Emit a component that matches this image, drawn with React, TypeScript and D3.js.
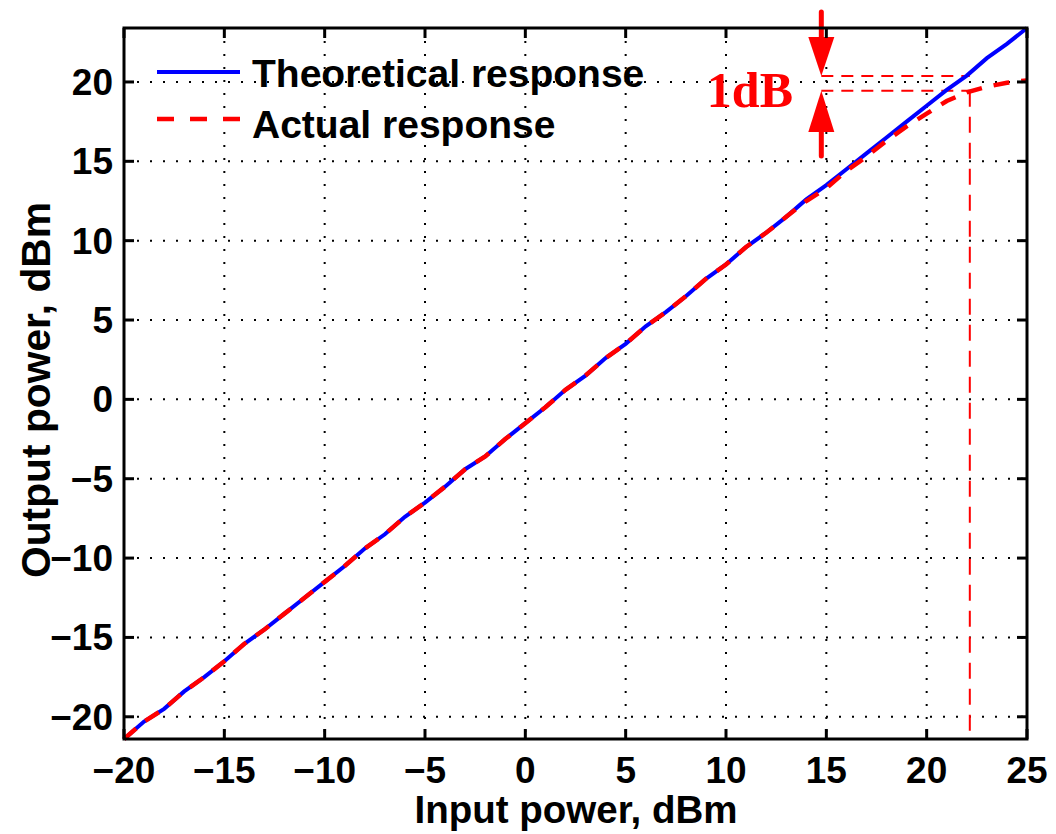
import React from "react";
import * as d3 from "d3";

const inputPower = d3.range(-20, 26, 1);
const theoretical = [
  -21.4, -20.3, -19.5, -18.4, -17.5, -16.5, -15.4, -14.5, -13.5, -12.5,
  -11.5, -10.5, -9.4, -8.5, -7.4, -6.5, -5.5, -4.4, -3.6, -2.5,
  -1.5, -0.5, 0.6, 1.5, 2.6, 3.5, 4.6, 5.5, 6.5, 7.6,
  8.5, 9.6, 10.5, 11.5, 12.6, 13.5, 14.5, 15.5, 16.5, 17.5,
  18.5, 19.5, 20.4, 21.5, 22.4, 23.4,
];
const actual = [
  -21.4, -20.3, -19.5, -18.4, -17.5, -16.5, -15.4, -14.5, -13.5, -12.5,
  -11.5, -10.5, -9.4, -8.5, -7.4, -6.5, -5.5, -4.4, -3.6, -2.5,
  -1.5, -0.5, 0.6, 1.5, 2.6, 3.5, 4.6, 5.5, 6.5, 7.6,
  8.5, 9.6, 10.5, 11.5, 12.5, 13.3, 14.4, 15.3, 16.3, 17.2,
  18.0, 18.8, 19.35, 19.7, 19.95, 20.1,
];
const xTicks = [-20, -15, -10, -5, 0, 5, 10, 15, 20, 25];
const yTicks = [-20, -15, -10, -5, 0, 5, 10, 15, 20];
const seriesNames = ["Theoretical response", "Actual response"];
const p1dBInput = 22.15;
const upperLevel = 20.38;
const lowerLevel = 19.45;
const arrowX = 14.75;
const annotationLabel = "1dB";

export default function App() {
  const W = 1056, H = 834;
  const left = 124, right = 1027, top = 28, bottom = 739;
  const x = d3.scaleLinear().domain([-20, 25]).range([left, right]);
  const y = d3.scaleLinear().domain([-21.4, 23.4]).range([bottom, top]);
  const line = d3.line<number>().x((_, i) => x(inputPower[i])).y((d) => y(d));
  const font = "Arial, 'Liberation Sans', sans-serif";
  const red = "#ff0000";
  const blue = "#0000ff";
  const tickLen = 10;
  const ax = x(arrowX);
  const fmt = (t: number) => (t < 0 ? "\u2212" + Math.abs(t) : String(t));
  return (
    <svg width={W} height={H} style={{ position: "absolute", left: 0, top: 0 }}>
      <rect x={0} y={0} width={W} height={H} fill="#fff" />
      {/* grid */}
      {xTicks.slice(1, -1).map((t) => (
        <line key={"gx" + t} x1={x(t)} x2={x(t)} y1={top} y2={bottom} stroke="#000" strokeWidth={2} strokeDasharray="2 11" />
      ))}
      {yTicks.map((t) => (
        <line key={"gy" + t} x1={left} x2={right} y1={y(t)} y2={y(t)} stroke="#000" strokeWidth={2} strokeDasharray="2 11" />
      ))}
      {/* annotation dashed lines */}
      <line x1={ax} x2={x(p1dBInput)} y1={y(upperLevel)} y2={y(upperLevel)} stroke={red} strokeWidth={2} strokeDasharray="12 8" />
      <line x1={ax} x2={x(p1dBInput)} y1={y(lowerLevel)} y2={y(lowerLevel)} stroke={red} strokeWidth={2} strokeDasharray="12 8" />
      <line x1={x(p1dBInput)} x2={x(p1dBInput)} y1={y(lowerLevel)} y2={bottom} stroke={red} strokeWidth={2} strokeDasharray="16 10" />
      {/* data */}
      <path d={line(theoretical) || ""} fill="none" stroke={blue} strokeWidth={4} />
      <path d={line(actual) || ""} fill="none" stroke={red} strokeWidth={4.5} strokeDasharray="16 12" />
      {/* arrows */}
      <line x1={ax} x2={ax} y1={12} y2={40} stroke={red} strokeWidth={5} strokeLinecap="round" />
      <polygon points={`${ax - 13},${37} ${ax + 13},${37} ${ax},${y(upperLevel)}`} fill={red} />
      <line x1={ax} x2={ax} y1={128} y2={156} stroke={red} strokeWidth={5} strokeLinecap="round" />
      <polygon points={`${ax - 13},${132} ${ax + 13},${132} ${ax},${y(lowerLevel)}`} fill={red} />
      <text x={793} y={107} textAnchor="end" fontFamily="'Liberation Serif', 'DejaVu Serif', serif" fontWeight="bold" fontSize={50} fill={red}>{annotationLabel}</text>
      {/* box */}
      <rect x={left} y={top} width={right - left} height={bottom - top} fill="none" stroke="#000" strokeWidth={3} />
      {/* ticks */}
      {xTicks.map((t) => (
        <g key={"tx" + t}>
          <line x1={x(t)} x2={x(t)} y1={bottom} y2={bottom - tickLen} stroke="#000" strokeWidth={3} />
          <line x1={x(t)} x2={x(t)} y1={top} y2={top + tickLen} stroke="#000" strokeWidth={3} />
          <text x={x(t)} y={783} textAnchor="middle" fontFamily={font} fontWeight="bold" fontSize={37}>{fmt(t)}</text>
        </g>
      ))}
      {yTicks.map((t) => (
        <g key={"ty" + t}>
          <line x1={left} x2={left + tickLen} y1={y(t)} y2={y(t)} stroke="#000" strokeWidth={3} />
          <line x1={right} x2={right - tickLen} y1={y(t)} y2={y(t)} stroke="#000" strokeWidth={3} />
          <text x={113} y={y(t) + 13} textAnchor="end" fontFamily={font} fontWeight="bold" fontSize={37}>{fmt(t)}</text>
        </g>
      ))}
      {/* legend */}
      <line x1={157} x2={240} y1={72} y2={72} stroke={blue} strokeWidth={4} />
      <text x={252} y={87} fontFamily={font} fontWeight="bold" fontSize={39}>{seriesNames[0]}</text>
      <line x1={157} x2={241} y1={119} y2={119} stroke={red} strokeWidth={4.5} strokeDasharray="17 16" />
      <text x={252} y={138} fontFamily={font} fontWeight="bold" fontSize={39}>{seriesNames[1]}</text>
      {/* axis labels */}
      <text x={576} y={823} textAnchor="middle" fontFamily={font} fontWeight="bold" fontSize={39} textLength={323} lengthAdjust="spacingAndGlyphs">Input power, dBm</text>
      <text transform={`translate(50, 390) rotate(-90)`} textAnchor="middle" fontFamily={font} fontWeight="bold" fontSize={40} textLength={376} lengthAdjust="spacingAndGlyphs">Output power, dBm</text>
    </svg>
  );
}
